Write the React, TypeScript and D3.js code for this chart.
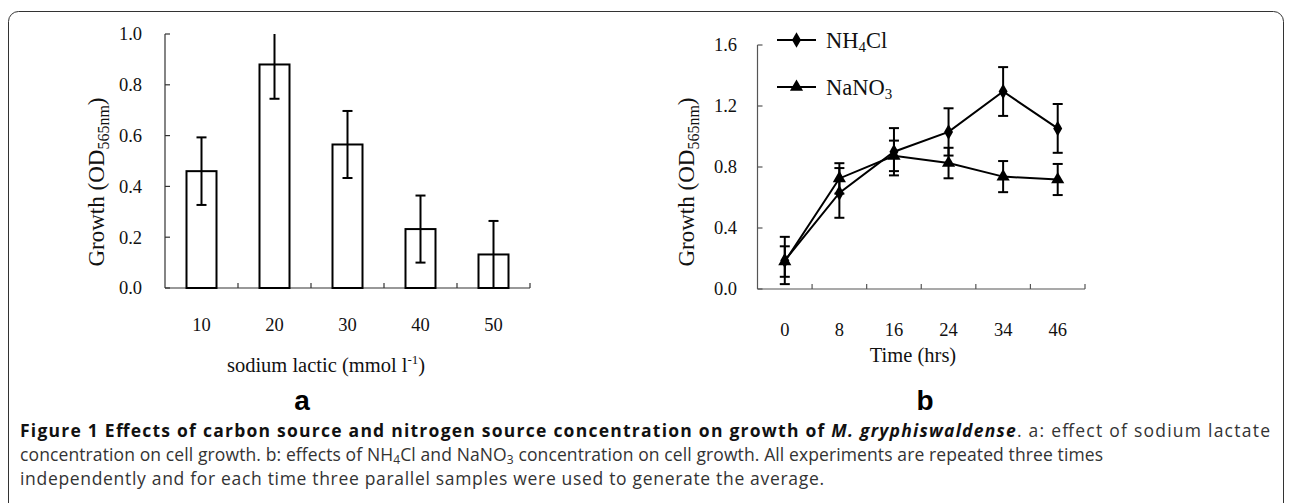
import React from 'react';
import * as d3 from 'd3';

// panel a: sodium lactate concentration
const concentrations = ['10', '20', '30', '40', '50'];
const growthA = [0.46, 0.88, 0.565, 0.232, 0.132];
const errA = [0.133, 0.135, 0.132, 0.132, 0.132];
const ticksA = [0, 0.2, 0.4, 0.6, 0.8, 1.0];

// panel b: time course
const times = ['0', '8', '16', '24', '34', '46'];
const nh4cl = [0.187, 0.63, 0.9, 1.03, 1.295, 1.053];
const nh4clErr = [0.155, 0.163, 0.155, 0.155, 0.16, 0.16];
const nano3 = [0.18, 0.725, 0.873, 0.826, 0.737, 0.718];
const nano3Err = [0.1, 0.1, 0.1, 0.1, 0.102, 0.102];
const ticksB = [0, 0.4, 0.8, 1.2, 1.6];

const serif = '"Liberation Serif", "Times New Roman", serif';
const sans = '"Open Sans", "Noto Sans", sans-serif';

const ChartA: React.FC = () => {
  const x = d3.scaleBand().domain(concentrations).range([165, 530]);
  const y = d3.scaleLinear().domain([0, 1]).range([288, 34]);
  const barW = 30;
  const cap = 5;
  const top = y.domain()[1];

  return (
    <g>
      {/* axes */}
      <line x1={x.range()[0]} x2={x.range()[0]} y1={y(0)} y2={y(1)} stroke="#333" strokeWidth={1.2} />
      <line x1={x.range()[0]} x2={x.range()[1]} y1={y(0)} y2={y(0)} stroke="#333" strokeWidth={1.2} />
      {ticksA.map(t => (
        <g key={t}>
          <line x1={x.range()[0]} x2={x.range()[0] + 5} y1={y(t)} y2={y(t)} stroke="#333" strokeWidth={1.2} />
          <text x={142} y={y(t)} dy="0.35em" textAnchor="end" fontFamily={serif} fontSize={18.5} fill="#111">
            {d3.format('.1f')(t)}
          </text>
        </g>
      ))}
      {concentrations.map((c, i) => (
        <g key={c}>
          {i > 0 && (
            <line x1={x(c)} x2={x(c)} y1={y(0)} y2={y(0) - 5} stroke="#333" strokeWidth={1.2} />
          )}
          <text x={(x(c) || 0) + x.bandwidth() / 2} y={331} textAnchor="middle" fontFamily={serif} fontSize={18.5} fill="#111">
            {c}
          </text>
        </g>
      ))}
      <line x1={x.range()[1]} x2={x.range()[1]} y1={y(0)} y2={y(0) - 5} stroke="#333" strokeWidth={1.2} />

      {/* bars */}
      {concentrations.map((c, i) => {
        const cx = (x(c) || 0) + x.bandwidth() / 2;
        const hi = growthA[i] + errA[i];
        const lo = Math.max(0, growthA[i] - errA[i]);
        return (
          <g key={'bar' + c}>
            <rect x={cx - barW / 2} y={y(growthA[i])} width={barW} height={y(0) - y(growthA[i])}
              fill="white" stroke="#000" strokeWidth={2} />
            <line x1={cx} x2={cx} y1={y(Math.min(hi, top))} y2={y(lo)} stroke="#000" strokeWidth={2} />
            {hi <= top && <line x1={cx - cap} x2={cx + cap} y1={y(hi)} y2={y(hi)} stroke="#000" strokeWidth={2} />}
            <line x1={cx - cap} x2={cx + cap} y1={y(lo)} y2={y(lo)} stroke="#000" strokeWidth={2} />
          </g>
        );
      })}

      {/* titles */}
      <text transform="translate(104,182) rotate(-90)" textAnchor="middle" fontFamily={serif} fontSize={23} fill="#111">
        Growth (OD<tspan fontSize={16} dy={5}>565nm</tspan><tspan dy={-5}>)</tspan>
      </text>
      <text x={326} y={372} textAnchor="middle" fontFamily={serif} fontSize={20.5} fill="#111">
        sodium lactic (mmol l<tspan fontSize={13} dy={-8}>-1</tspan><tspan dy={8}>)</tspan>
      </text>
      <text x={302} y={410} textAnchor="middle" fontFamily='"Liberation Sans", Arial, sans-serif' fontWeight="bold" fontSize={28} fill="#000">
        a
      </text>
    </g>
  );
};

const ChartB: React.FC = () => {
  const x = d3.scaleBand().domain(times).range([757.5, 1085]);
  const y = d3.scaleLinear().domain([0, 1.6]).range([289, 45]);
  const cap = 5;
  const cx = (t: string) => (x(t) || 0) + x.bandwidth() / 2;

  const line = d3.line<number>()
    .x((_, i) => cx(times[i]))
    .y(d => y(d));

  const diamond = d3.symbol().type(d3.symbolDiamond).size(70)() || '';
  const triangle = d3.symbol().type(d3.symbolTriangle).size(75)() || '';

  const series = [
    { name: 'NH4Cl', values: nh4cl, err: nh4clErr, marker: diamond },
    { name: 'NaNO3', values: nano3, err: nano3Err, marker: triangle },
  ];

  return (
    <g>
      <line x1={x.range()[0]} x2={x.range()[0]} y1={y(0)} y2={y(1.6)} stroke="#555" strokeWidth={1.2} />
      <line x1={x.range()[0]} x2={x.range()[1]} y1={y(0)} y2={y(0)} stroke="#555" strokeWidth={1.2} />
      {ticksB.map(t => (
        <g key={t}>
          <line x1={x.range()[0]} x2={x.range()[0] + 5} y1={y(t)} y2={y(t)} stroke="#555" strokeWidth={1.2} />
          <text x={737} y={y(t)} dy="0.35em" textAnchor="end" fontFamily={serif} fontSize={18.5} fill="#111">
            {d3.format('.1f')(t)}
          </text>
        </g>
      ))}
      {times.map((t, i) => (
        <g key={t}>
          {i > 0 && <line x1={x(t)} x2={x(t)} y1={y(0)} y2={y(0) - 5} stroke="#555" strokeWidth={1.2} />}
          <text x={cx(t)} y={336} textAnchor="middle" fontFamily={serif} fontSize={18.5} fill="#111">{t}</text>
        </g>
      ))}
      <line x1={x.range()[1]} x2={x.range()[1]} y1={y(0)} y2={y(0) - 5} stroke="#555" strokeWidth={1.2} />

      {series.map(s => (
        <g key={s.name}>
          {s.values.map((v, i) => {
            const px = cx(times[i]);
            const hi = v + s.err[i];
            const lo = v - s.err[i];
            return (
              <g key={i}>
                <line x1={px} x2={px} y1={y(hi)} y2={y(lo)} stroke="#000" strokeWidth={2} />
                <line x1={px - cap} x2={px + cap} y1={y(hi)} y2={y(hi)} stroke="#000" strokeWidth={2} />
                <line x1={px - cap} x2={px + cap} y1={y(lo)} y2={y(lo)} stroke="#000" strokeWidth={2} />
              </g>
            );
          })}
        </g>
      ))}
      {series.map(s => (
        <g key={'l' + s.name}>
          <path d={line(s.values) || ''} fill="none" stroke="#000" strokeWidth={2} />
          {s.values.map((v, i) => (
            <path key={i} d={s.marker} transform={`translate(${cx(times[i])},${y(v)})`} fill="#000" />
          ))}
        </g>
      ))}

      {/* legend */}
      <line x1={777} x2={816} y1={40} y2={40} stroke="#000" strokeWidth={2} />
      <path d={diamond} transform="translate(796.5,40)" fill="#000" />
      <text x={826} y={48} fontFamily={serif} fontSize={22.5} fill="#111">
        NH<tspan fontSize={15} dy={4}>4</tspan><tspan dy={-4}>Cl</tspan>
      </text>
      <line x1={777} x2={816} y1={87} y2={87} stroke="#000" strokeWidth={2} />
      <path d={triangle} transform="translate(796.5,87)" fill="#000" />
      <text x={826} y={95} fontFamily={serif} fontSize={22.5} fill="#111">
        NaNO<tspan fontSize={15} dy={4}>3</tspan>
      </text>

      <text transform="translate(694,182) rotate(-90)" textAnchor="middle" fontFamily={serif} fontSize={23} fill="#111">
        Growth (OD<tspan fontSize={16} dy={5}>565nm</tspan><tspan dy={-5}>)</tspan>
      </text>
      <text x={913} y={362} textAnchor="middle" fontFamily={serif} fontSize={20.5} fill="#111">Time (hrs)</text>
      <text x={925} y={410} textAnchor="middle" fontFamily='"Liberation Sans", Arial, sans-serif' fontWeight="bold" fontSize={28} fill="#000">
        b
      </text>
    </g>
  );
};

const Caption: React.FC = () => (
  <g fontFamily={sans} fontSize={17.5} fill="#333">
    <text x={20} y={437} textLength={1250} lengthAdjust="spacing">
      <tspan fontWeight="bold" fill="#111">Figure 1 Effects of carbon source and nitrogen source concentration on growth of </tspan>
      <tspan fontWeight="bold" fontStyle="italic" fill="#111">M. gryphiswaldense</tspan>
      <tspan>. a: effect of sodium lactate</tspan>
    </text>
    <text x={20} y={461} textLength={1083} lengthAdjust="spacing">
      concentration on cell growth. b: effects of NH<tspan fontSize={12} dy={3}>4</tspan>
      <tspan dy={-3}>Cl and NaNO</tspan><tspan fontSize={12} dy={3}>3</tspan>
      <tspan dy={-3}> concentration on cell growth. All experiments are repeated three times</tspan>
    </text>
    <text x={20} y={485} textLength={804} lengthAdjust="spacing">
      independently and for each time three parallel samples were used to generate the average.
    </text>
  </g>
);

const App: React.FC = () => (
  <svg width={1290} height={503} style={{ position: 'absolute', left: 0, top: 0, background: 'white' }}>
    <rect x={8.5} y={11.5} width={1275} height={620} rx={10} fill="none" stroke="#333" strokeWidth={1} />
    <ChartA />
    <ChartB />
    <Caption />
  </svg>
);

export default App;
